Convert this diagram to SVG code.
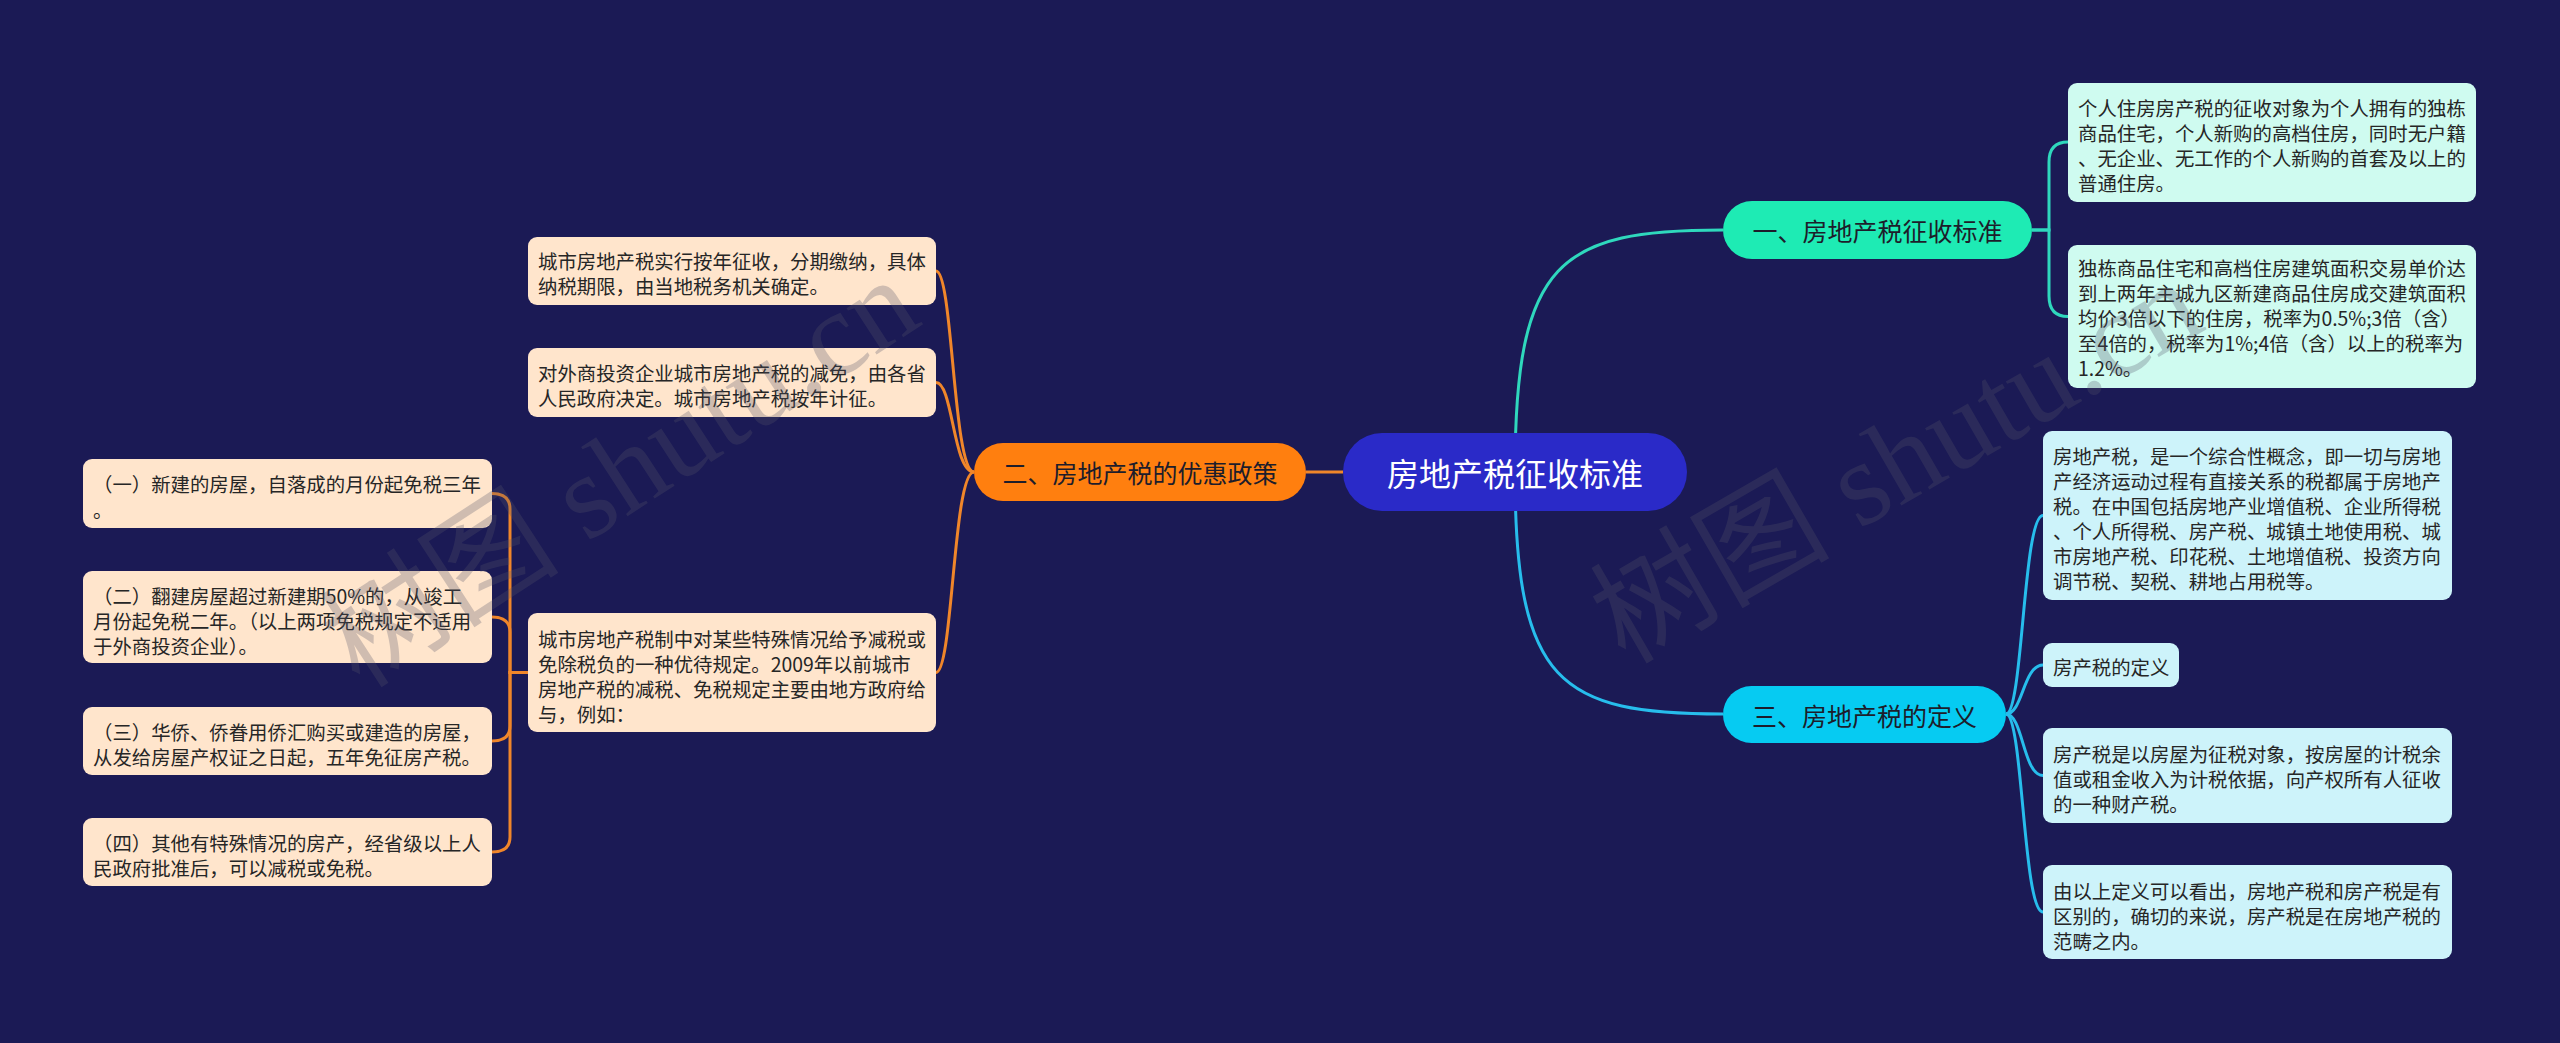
<svg xmlns="http://www.w3.org/2000/svg" width="2560" height="1043" viewBox="0 0 2560 1043">
<style>
text{font-family:"Noto Sans CJK SC","Noto Sans",sans-serif;dominant-baseline:central}
.lf text{font-size:19.4px;fill:#262626}
.c1{fill:none;stroke:#2fd8bd;stroke-width:3}
.c3{fill:none;stroke:#27bdec;stroke-width:3}
.c2{fill:none;stroke:#f0862a;stroke-width:3}
.bt{font-size:25px;fill:#1d1d2b;text-anchor:middle}
.mint{fill:#cffbf0}
.cyan{fill:#cdf3fa}
.peach{fill:#ffe5cc}
.wm{font-family:"Liberation Serif","Noto Sans CJK SC",serif;font-size:120px;fill:#55556a;opacity:0.28;dominant-baseline:alphabetic}
</style>
<rect width="2560" height="1043" fill="#1b1a55"/>
<g id="connectors">
<path class="c1" d="M1515,472 C1515,260 1560,230 1723,230"/>
<path class="c3" d="M1515,472 C1515,684 1560,714 1723,714"/>
<path class="c2" d="M1306,472 H1343"/>
<path class="c1" d="M2068,142 Q2049,142 2049,162 V230 H2032"/>
<path class="c1" d="M2068,316.5 Q2049,316.5 2049,296 V230 H2032"/>
<path class="c3" d="M2006,714 C2023,714 2023,515.5 2043,515.5"/>
<path class="c3" d="M2006,714 C2023,714 2023,665 2043,665"/>
<path class="c3" d="M2006,714 C2023,714 2023,775.5 2043,775.5"/>
<path class="c3" d="M2006,714 C2023,714 2023,912 2043,912"/>
<path class="c2" d="M974,472 C953,472 953,271 936,271"/>
<path class="c2" d="M974,472 C953,472 953,382.5 936,382.5"/>
<path class="c2" d="M974,472 C953,472 953,672.5 936,672.5"/>
<path class="c2" d="M492,493.5 Q510,493.5 510,509 V672.5 H528"/>
<path class="c2" d="M492,617 Q510,617 510,632 V672.5 H528"/>
<path class="c2" d="M492,741 Q510,741 510,726 V672.5 H528"/>
<path class="c2" d="M492,852 Q510,852 510,837 V672.5 H528"/>
</g>
<g id="root">
<rect x="1343" y="433" width="344" height="78" rx="39" fill="#2a2ac8"/>
<text x="1515" y="472" font-size="32" fill="#ffffff" text-anchor="middle">房地产税征收标准</text>
</g>
<g id="b1">
<rect x="1723" y="201" width="309" height="58" rx="29" fill="#1eebb4"/>
<text class="bt" x="1877.5" y="230">一、房地产税征收标准</text>
</g>
<g id="b2">
<rect x="974" y="443" width="332" height="58" rx="29" fill="#ff7f0f"/>
<text class="bt" x="1140" y="472">二、房地产税的优惠政策</text>
</g>
<g id="b3">
<rect x="1723" y="686" width="283" height="57" rx="28.5" fill="#06cbf2"/>
<text class="bt" x="1864.5" y="714.5">三、房地产税的定义</text>
</g>
<g id="r1" class="lf">
<rect class="mint" x="2068" y="83" width="408" height="119" rx="9"/>
<text x="2078" y="107">个人住房房产税的征收对象为个人拥有的独栋</text>
<text x="2078" y="132">商品住宅，个人新购的高档住房，同时无户籍</text>
<text x="2078" y="157">、无企业、无工作的个人新购的首套及以上的</text>
<text x="2078" y="182">普通住房。</text>
</g>
<g id="r2" class="lf">
<rect class="mint" x="2068" y="245" width="408" height="143" rx="9"/>
<text x="2078" y="267">独栋商品住宅和高档住房建筑面积交易单价达</text>
<text x="2078" y="292">到上两年主城九区新建商品住房成交建筑面积</text>
<text x="2078" y="317">均价3倍以下的住房，税率为0.5%;3倍（含）</text>
<text x="2078" y="342">至4倍的，税率为1%;4倍（含）以上的税率为</text>
<text x="2078" y="367">1.2%。</text>
</g>
<g id="d1" class="lf">
<rect class="cyan" x="2043" y="431" width="409" height="169" rx="9"/>
<text x="2053" y="455">房地产税，是一个综合性概念，即一切与房地</text>
<text x="2053" y="480">产经济运动过程有直接关系的税都属于房地产</text>
<text x="2053" y="505">税。在中国包括房地产业增值税、企业所得税</text>
<text x="2053" y="530">、个人所得税、房产税、城镇土地使用税、城</text>
<text x="2053" y="555">市房地产税、印花税、土地增值税、投资方向</text>
<text x="2053" y="580">调节税、契税、耕地占用税等。</text>
</g>
<g id="d2" class="lf">
<rect class="cyan" x="2043" y="643" width="136" height="44" rx="9"/>
<text x="2053" y="666">房产税的定义</text>
</g>
<g id="d3" class="lf">
<rect class="cyan" x="2043" y="728" width="409" height="95" rx="9"/>
<text x="2053" y="753">房产税是以房屋为征税对象，按房屋的计税余</text>
<text x="2053" y="778">值或租金收入为计税依据，向产权所有人征收</text>
<text x="2053" y="803">的一种财产税。</text>
</g>
<g id="d4" class="lf">
<rect class="cyan" x="2043" y="865" width="409" height="94" rx="9"/>
<text x="2053" y="890">由以上定义可以看出，房地产税和房产税是有</text>
<text x="2053" y="915">区别的，确切的来说，房产税是在房地产税的</text>
<text x="2053" y="940">范畴之内。</text>
</g>
<g id="p1" class="lf">
<rect class="peach" x="528" y="237" width="408" height="68" rx="9"/>
<text x="538" y="260">城市房地产税实行按年征收，分期缴纳，具体</text>
<text x="538" y="285">纳税期限，由当地税务机关确定。</text>
</g>
<g id="p2" class="lf">
<rect class="peach" x="528" y="348" width="408" height="69" rx="9"/>
<text x="538" y="372">对外商投资企业城市房地产税的减免，由各省</text>
<text x="538" y="397">人民政府决定。城市房地产税按年计征。</text>
</g>
<g id="p3" class="lf">
<rect class="peach" x="528" y="613" width="408" height="119" rx="9"/>
<text x="538" y="638">城市房地产税制中对某些特殊情况给予减税或</text>
<text x="538" y="663">免除税负的一种优待规定。2009年以前城市</text>
<text x="538" y="688">房地产税的减税、免税规定主要由地方政府给</text>
<text x="538" y="713">与，例如：</text>
</g>
<g id="f1" class="lf">
<rect class="peach" x="83" y="459" width="409" height="69" rx="9"/>
<text x="93" y="483">（一）新建的房屋，自落成的月份起免税三年</text>
<text x="93" y="509">。</text>
</g>
<g id="f2" class="lf">
<rect class="peach" x="83" y="571" width="409" height="92" rx="9"/>
<text x="93" y="595">（二）翻建房屋超过新建期50%的，从竣工</text>
<text x="93" y="620">月份起免税二年。（以上两项免税规定不适用</text>
<text x="93" y="645">于外商投资企业）。</text>
</g>
<g id="f3" class="lf">
<rect class="peach" x="83" y="707" width="409" height="68" rx="9"/>
<text x="93" y="731">（三）华侨、侨眷用侨汇购买或建造的房屋，</text>
<text x="93" y="756">从发给房屋产权证之日起，五年免征房产税。</text>
</g>
<g id="f4" class="lf">
<rect class="peach" x="83" y="818" width="409" height="68" rx="9"/>
<text x="93" y="842">（四）其他有特殊情况的房产，经省级以上人</text>
<text x="93" y="867">民政府批准后，可以减税或免税。</text>
</g>
<g id="watermarks">
<text class="wm" transform="translate(360,690) rotate(-33)">树图 shutu.cn</text>
<text class="wm" transform="translate(1625,665) rotate(-30)">树图 shutu.cn</text>
</g>
</svg>
